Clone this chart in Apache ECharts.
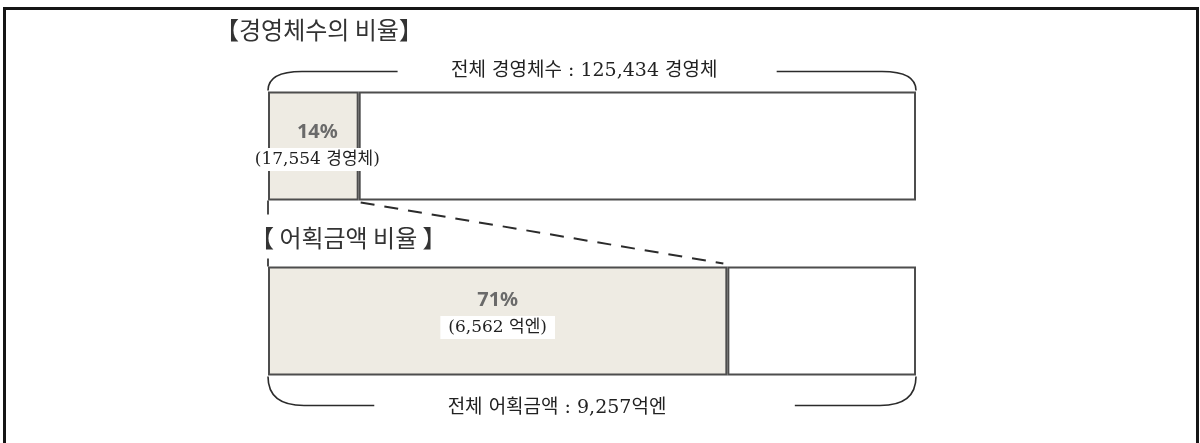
<!DOCTYPE html>
<html lang="ko">

<head>
    <meta charset="UTF-8">
    <title>경영체수의 비율 / 어획금액 비율</title>
    <script src="https://cdn.jsdelivr.net/npm/echarts@6/dist/echarts.min.js"></script>
    <style>
        html, body { margin: 0; background: #fff; }
        #main { width: 1200px; height: 443px; }
    </style>
</head>

<body>
    <div id="main"></div>
</body>

</html>
<script type="text/javascript">
    // 데이터
    var categories = ['경영체수', '어획금액'];
    var titles = ['【경영체수의 비율】', '【 어획금액 비율 】'];
    var partValues = [17554, 6562];
    var totalValues = [125434, 9257];
    var percentLabels = ['14%', '71%'];
    var partLabels = ['(17,554 경영체)', '(6,562 억엔)'];
    var totalLabels = ['전체 경영체수 : 125,434 경영체', '전체 어획금액 : 9,257억엔'];

    var shareData = [];
    var restData = [];
    for (var i = 0; i < categories.length; i++) {
        var s = partValues[i] / totalValues[i] * 100;
        shareData.push({
            value: s,
            label: { offset: i == 0 ? [4, 0] : [0, -7] }
        });
        restData.push(100 - s);
    }

    var BAR_H = 109;
    var serifKr = '"DejaVu Serif", "Noto Sans CJK KR"';
    var titleStyle = { fontSize: 24, fontWeight: 'normal', color: '#333', fontFamily: 'Noto Sans CJK KR' };

    var myChart = echarts.init(document.getElementById('main'));

    var option = {
        animation: false,
        title: [
            { text: titles[0], left: 210, top: 13, textStyle: titleStyle },
            { text: titles[1], left: 245, top: 221, textStyle: titleStyle }
        ],
        grid: { left: 268, right: 284, top: 58.5, height: 350 },
        xAxis: { type: 'value', min: 0, max: 100, show: false },
        yAxis: { type: 'category', data: categories, inverse: true, show: false },
        series: [{
            name: '비율',
            type: 'bar',
            stack: 'all',
            barWidth: BAR_H,
            data: shareData,
            itemStyle: { color: '#eeebe3', borderColor: '#4d4d4d', borderWidth: 2 },
            label: {
                show: true,
                position: 'inside',
                formatter: function (p) {
                    return '{p|' + percentLabels[p.dataIndex] + '}\n{v|' + partLabels[p.dataIndex] + '}';
                },
                rich: {
                    p: { fontSize: 20, fontWeight: 'bold', color: '#6a6a6a', fontFamily: 'Noto Sans', lineHeight: 27 },
                    v: { fontSize: 17, color: '#222', fontFamily: serifKr, backgroundColor: '#fff', padding: [3, 8], lineHeight: 27 }
                }
            }
        }, {
            name: '나머지',
            type: 'bar',
            stack: 'all',
            barWidth: BAR_H,
            data: restData,
            itemStyle: { color: '#fff', borderColor: '#4d4d4d', borderWidth: 2 }
        }]
    };
    myChart.setOption(option);

    // 괄호, 점선 등 장식
    var x0 = myChart.convertToPixel({ xAxisIndex: 0 }, 0);
    var x1 = myChart.convertToPixel({ xAxisIndex: 0 }, 100);
    var xs0 = myChart.convertToPixel({ xAxisIndex: 0 }, shareData[0].value);
    var xs1 = myChart.convertToPixel({ xAxisIndex: 0 }, shareData[1].value);
    var cy0 = myChart.convertToPixel({ yAxisIndex: 0 }, categories[0]);
    var cy1 = myChart.convertToPixel({ yAxisIndex: 0 }, categories[1]);
    var topY = cy0 - BAR_H / 2;
    var topBottomY = cy0 + BAR_H / 2;
    var botTopY = cy1 - BAR_H / 2;
    var botY = cy1 + BAR_H / 2;
    var w = x1 - x0;
    var by0 = topY - 20;
    var by1 = botY + 30;
    var ls = { stroke: '#2b2b2b', lineWidth: 1.6, fill: 'none' };

    function seg(ax, ay, bx, by, style) {
        return { type: 'line', silent: true, shape: { x1: ax, y1: ay, x2: bx, y2: by }, style: style || ls };
    }
    function curve(ax, ay, cx, cy, bx, by) {
        return { type: 'bezierCurve', silent: true, shape: { x1: ax, y1: ay, cpx1: cx, cpy1: cy, x2: bx, y2: by }, style: ls };
    }

    myChart.setOption({
        graphic: [{
            type: 'rect', silent: true,
            shape: { x: 4.5, y: 8.5, width: 1193, height: 480 },
            style: { fill: 'none', stroke: '#151515', lineWidth: 3 }
        },
        // 위쪽 괄호
        curve(x0, topY - 1, x0, by0, x0 + 34, by0),
        seg(x0 + 34, by0, x0 + 0.2 * w, by0),
        seg(x0 + 0.785 * w, by0, x1 - 34, by0),
        curve(x1 - 34, by0, x1, by0, x1, topY - 1),
        {
            type: 'text', silent: true,
            style: { text: totalLabels[0], x: x0 + 0.488 * w, y: by0, textAlign: 'center', textVerticalAlign: 'middle', font: '19px ' + serifKr, fill: '#222' }
        },
        // 아래쪽 괄호
        curve(x0, botY + 1, x0, by1, x0 + 36, by1),
        seg(x0 + 36, by1, x0 + 0.164 * w, by1),
        seg(x0 + 0.813 * w, by1, x1 - 36, by1),
        curve(x1 - 36, by1, x1, by1, x1, botY + 1),
        {
            type: 'text', silent: true,
            style: { text: totalLabels[1], x: x0 + 0.446 * w, y: by1 + 3, textAlign: 'center', textVerticalAlign: 'middle', font: '19px ' + serifKr, fill: '#222' }
        },
        // 점선
        seg(xs0 + 2, topBottomY + 2, xs1 - 4, botTopY - 3, { stroke: '#2b2b2b', lineWidth: 2, lineDash: [14, 10] }),
        seg(x0, topBottomY, x0, topBottomY + 14, { stroke: '#4d4d4d', lineWidth: 2 }),
        seg(x0, botTopY - 8, x0, botTopY, { stroke: '#4d4d4d', lineWidth: 2 })
        ]
    });
</script>
